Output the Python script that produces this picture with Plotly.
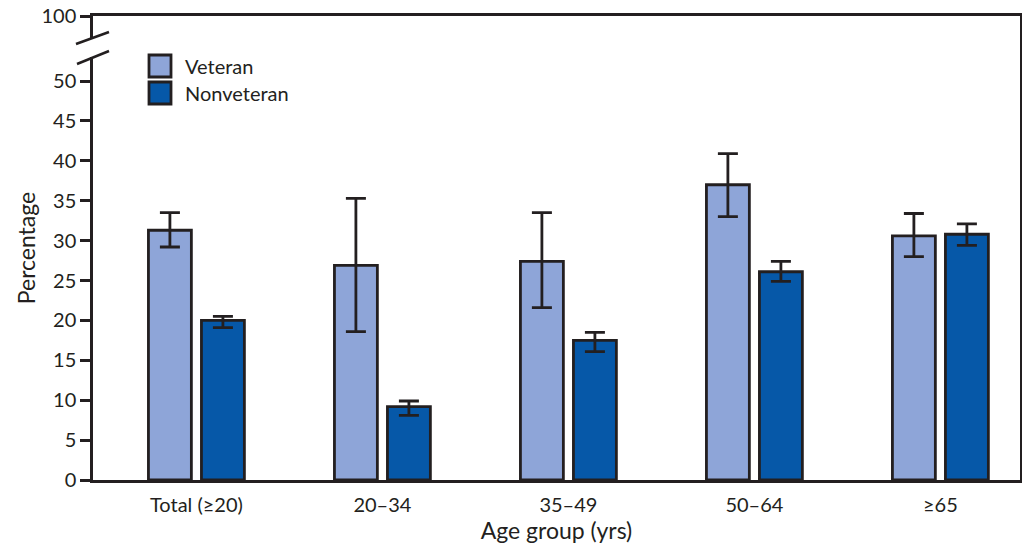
import plotly.graph_objects as go

categories = ["Total (≥20)", "20–34", "35–49", "50–64", "≥65"]
veteran = [31.3, 26.9, 27.4, 37.0, 30.6]
veteran_hi = [33.5, 35.3, 33.5, 40.9, 33.4]
veteran_lo = [29.2, 18.6, 21.6, 33.0, 28.0]
nonveteran = [20.0, 9.2, 17.5, 26.1, 30.8]
nonveteran_hi = [20.5, 9.9, 18.5, 27.4, 32.1]
nonveteran_lo = [19.1, 8.1, 16.1, 24.9, 29.4]
ytick_vals = [0, 5, 10, 15, 20, 25, 30, 35, 40, 45, 50]
top_label = "100"
series_names = ["Veteran", "Nonveteran"]

INK = "#231F20"
VET_COLOR = "#8EA5D8"
NONVET_COLOR = "#0658A8"
FONT = "Lato, Open Sans, sans-serif"
YMAX = 58.15  # axis top (break region representing up to 100)


def err(vals, hi, lo):
    return dict(type="data", symmetric=False,
                array=[h - v for h, v in zip(hi, vals)],
                arrayminus=[v - l for v, l in zip(vals, lo)],
                color=INK, thickness=2.8, width=10)


fig = go.Figure()
fig.add_trace(go.Bar(name=series_names[0], x=categories, y=veteran, showlegend=False,
                     marker=dict(color=VET_COLOR, line=dict(color=INK, width=2.8)),
                     error_y=err(veteran, veteran_hi, veteran_lo)))
fig.add_trace(go.Bar(name=series_names[1], x=categories, y=nonveteran, showlegend=False,
                     marker=dict(color=NONVET_COLOR, line=dict(color=INK, width=2.8)),
                     error_y=err(nonveteran, nonveteran_hi, nonveteran_lo)))

W, H = 1022, 547
L, R, T, B = 93, 2, 16, 67
pw, ph = W - L - R, H - T - B


def px(x):
    return (x - L) / pw


def py(y):
    return (H - B - y) / ph


shapes = [
    # break in the y axis
    dict(type="rect", xref="paper", yref="paper", x0=px(89), x1=px(97),
         y0=py(57), y1=py(39), fillcolor="white", line=dict(width=0), layer="above"),
    dict(type="line", xref="paper", yref="paper", x0=px(76), y0=py(44), x1=px(109), y1=py(32),
         line=dict(color=INK, width=2.5), layer="above"),
    dict(type="line", xref="paper", yref="paper", x0=px(77), y0=py(64), x1=px(109), y1=py(51),
         line=dict(color=INK, width=2.5), layer="above"),
]

# custom legend (large square swatches)
annotations = []
for i, (name, col) in enumerate(zip(series_names, [VET_COLOR, NONVET_COLOR])):
    top = 55 + i * 27
    shapes.append(dict(type="rect", xref="paper", yref="paper",
                       x0=px(149), x1=px(171), y0=py(top + 22), y1=py(top),
                       fillcolor=col, line=dict(color=INK, width=2.8), layer="above"))
    annotations.append(dict(xref="paper", yref="paper", x=px(183), y=py(top + 11),
                            xanchor="left", yanchor="middle", showarrow=False, text=name,
                            font=dict(size=20, family=FONT, color=INK)))

fig.update_layout(
    width=W, height=H, autosize=False,
    margin=dict(l=L, r=R, t=T, b=B, pad=0, autoexpand=False),
    plot_bgcolor="white", paper_bgcolor="white",
    barmode="group", bargap=0.43, bargroupgap=0.19,
    font=dict(family=FONT, color=INK, size=20),
    showlegend=False,
    xaxis=dict(range=[-0.556, 4.428], showline=True, linecolor=INK, linewidth=2.5,
               mirror=True, ticks="outside", ticklen=5, tickcolor="rgba(0,0,0,0)",
               automargin=False,
               tickfont=dict(size=20, family=FONT, color=INK),
               title=dict(text="Age group (yrs)", font=dict(size=23, family=FONT, color=INK),
                          standoff=2)),
    yaxis=dict(range=[0, YMAX], showline=True, linecolor=INK, linewidth=2.5, mirror=True,
               automargin=False,
               showgrid=False, zeroline=False, ticks="outside", ticklen=10, tickwidth=2.5,
               tickcolor=INK,
               tickvals=ytick_vals + [YMAX],
               ticktext=[str(v) for v in ytick_vals] + [top_label],
               tickfont=dict(size=20, family=FONT, color=INK),
               title=dict(text="Percentage", font=dict(size=23, family=FONT, color=INK),
                          standoff=0)),
    shapes=shapes,
    annotations=annotations,
)

fig.write_html("out.html", config={"displayModeBar": False},
               post_script="document.body.style.margin='0px';"
                           "document.body.style.overflow='hidden';")
